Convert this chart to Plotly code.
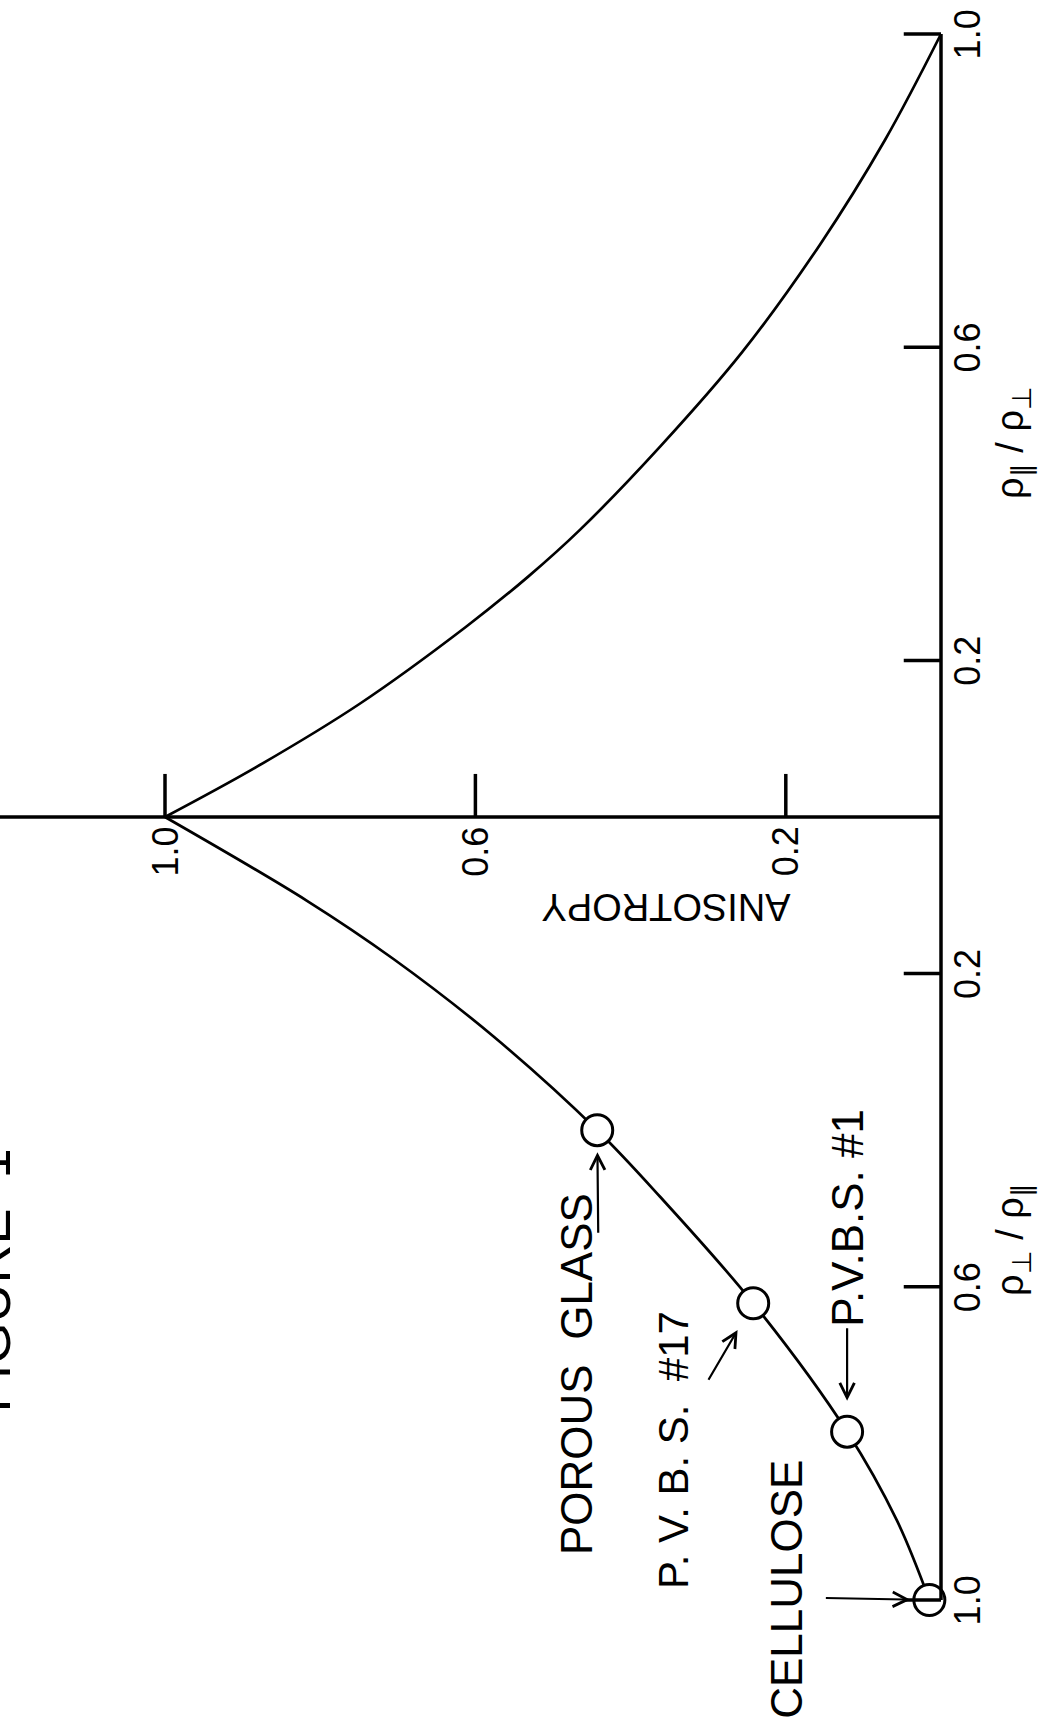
import plotly.graph_objects as go

# Anisotropy versus polarised intensity ratio (both branches)
anis_ticks = [1.0, 0.6, 0.2]
anis_tick_labels = ["1.0", "0.6", "0.2"]
ratio_ticks = [0.2, 0.6, 1.0]
ratio_tick_labels = ["0.2", "0.6", "1.0"]

# upper branch: rho_par / rho_perp
upper_ratio = [0.0, 0.064, 0.144, 0.243, 0.307, 0.367, 0.473, 0.594, 0.731, 0.865, 1.0]
upper_anis = [1.0, 0.882, 0.750, 0.612, 0.532, 0.465, 0.362, 0.256, 0.156, 0.072, 0.0]

# lower branch: rho_perp / rho_par
lower_ratio = [0.0, 0.107, 0.181, 0.280, 0.400, 0.485, 0.621, 0.785, 0.898, 1.0]
lower_anis = [1.0, 0.817, 0.706, 0.577, 0.443, 0.362, 0.242, 0.121, 0.057, 0.015]

# measured samples on the lower branch
sample_names = ["POROUS\u00a0 GLASS", "P. V. B. S.\u00a0 #17", "P.V.B.S. #1", "CELLULOSE"]
sample_ratio = [0.400, 0.621, 0.785, 1.0]
sample_anis = [0.443, 0.242, 0.121, 0.015]

# label centres (anisotropy, signed ratio) and arrow tails in pixels
label_pos = [(0.470, -0.711), (0.345, -0.808), (0.120, -0.512), (0.200, -0.986)]
label_size = [44, 42, 44, 44]
arrow_tail = [(1, 103), (-45, 77), (0, -104), (-104, -2)]
arrow_standoff = [22, 31, 31, 19]

X_RANGE = [941 / 776, -109 / 776]
Y_RANGE = [-902 / 783, 817 / 783]
ANIS_TICK_LEN = 0.055
RATIO_TICK_LEN = 0.048

FONT = "Liberation Sans, Arial, sans-serif"
INK = "black"

fig = go.Figure()

# curves
fig.add_trace(go.Scatter(x=upper_anis, y=upper_ratio, mode="lines",
                         line=dict(color=INK, width=2.7, shape="spline", smoothing=1.0),
                         hoverinfo="skip"))
fig.add_trace(go.Scatter(x=lower_anis, y=[-r for r in lower_ratio], mode="lines",
                         line=dict(color=INK, width=2.7, shape="spline", smoothing=1.0),
                         hoverinfo="skip"))

# sample markers
fig.add_trace(go.Scatter(x=sample_anis, y=[-r for r in sample_ratio], mode="markers",
                         marker=dict(symbol="circle", size=31, color="white",
                                     line=dict(color=INK, width=3)),
                         hoverinfo="skip"))

# anisotropy axis and its ticks
fig.add_trace(go.Scatter(x=[X_RANGE[0], 0], y=[0, 0], mode="lines",
                         line=dict(color=INK, width=3.5), hoverinfo="skip"))
tx, ty = [], []
for t in anis_ticks:
    tx += [t, t, None]
    ty += [0, ANIS_TICK_LEN, None]
fig.add_trace(go.Scatter(x=tx, y=ty, mode="lines",
                         line=dict(color=INK, width=3.5), hoverinfo="skip"))

# ratio axis and its ticks (both branches)
fig.add_trace(go.Scatter(x=[0, 0], y=[max(ratio_ticks), -max(ratio_ticks)], mode="lines",
                         line=dict(color=INK, width=3.5), hoverinfo="skip"))
rx, ry = [], []
for t in ratio_ticks:
    for s in (1, -1):
        rx += [0, RATIO_TICK_LEN, None]
        ry += [s * t, s * t, None]
fig.add_trace(go.Scatter(x=rx, y=ry, mode="lines",
                         line=dict(color=INK, width=3.5), hoverinfo="skip"))

ann = []
for t, lab in zip(anis_ticks, anis_tick_labels):
    ann.append(dict(x=t, y=-0.044, text=lab, textangle=-90, showarrow=False,
                    font=dict(size=36, family=FONT, color=INK)))
for t, lab in zip(ratio_ticks, ratio_tick_labels):
    for s in (1, -1):
        ann.append(dict(x=-0.034, y=s * t, text=lab, textangle=-90, showarrow=False,
                        font=dict(size=36, family=FONT, color=INK)))

ann.append(dict(x=0.354, y=-0.115, text="ANISOTROPY", textangle=180, showarrow=False,
                font=dict(size=38, family=FONT, color=INK)))
ann.append(dict(x=-0.093, y=0.478, text="ρ<sub>∥</sub> / ρ<sub>⊥</sub>", textangle=-90,
                showarrow=False, font=dict(size=38, family=FONT, color=INK)))
ann.append(dict(x=-0.093, y=-0.54, text="ρ<sub>⊥</sub> / ρ<sub>∥</sub>", textangle=-90,
                showarrow=False, font=dict(size=38, family=FONT, color=INK)))

for name, (lx, ly), fs in zip(sample_names, label_pos, label_size):
    ann.append(dict(x=lx, y=ly, text=name, textangle=-90, showarrow=False,
                    font=dict(size=fs, family=FONT, color=INK)))

for a, r, (ax, ay), so in zip(sample_anis, sample_ratio, arrow_tail, arrow_standoff):
    ann.append(dict(x=a, y=-r, ax=ax, ay=ay, text="", showarrow=True,
                    arrowhead=5, arrowsize=1.3, arrowwidth=2.2, arrowcolor=INK,
                    standoff=so, borderpad=0, font=dict(size=1)))

# figure caption running off the left edge of the sheet
ann.append(dict(xref="paper", x=0, xanchor="center", xshift=-9, y=-0.592,
                text="FIGURE\u00a0 1", textangle=-90, showarrow=False,
                font=dict(size=54, family=FONT, color=INK)))

fig.update_layout(
    width=1050, height=1719,
    margin=dict(l=0, r=0, t=0, b=0),
    paper_bgcolor="white", plot_bgcolor="white",
    showlegend=False,
    annotations=ann,
    xaxis=dict(range=X_RANGE, visible=False, fixedrange=True),
    yaxis=dict(range=Y_RANGE, visible=False, fixedrange=True),
)

fig.write_html("out.html")
